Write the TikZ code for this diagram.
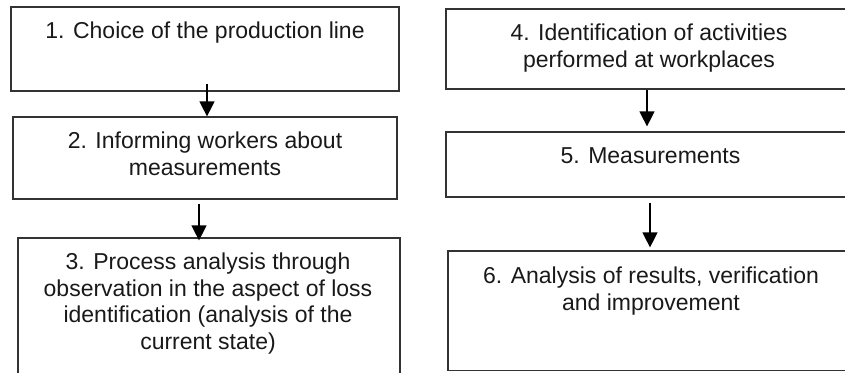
\documentclass[tikz,border=0pt]{standalone}
\usepackage{fontspec}
\setmainfont{Liberation Sans}
\usetikzlibrary{arrows.meta}
\begin{document}
\begin{tikzpicture}[x=1pt,y=-1pt,
  box/.style={draw=black!80,line width=1.2pt,rectangle,inner sep=0pt},
  txt/.style={anchor=north,inner sep=0pt,align=center,text=black!90,
    font=\fontsize{23pt}{26.5pt}\selectfont},
  arr/.style={draw=black,line width=1.2pt,-{Triangle[width=15pt,length=15pt]}}]
\useasboundingbox (0,0) rectangle (845,372);
\clip (0,0) rectangle (845,372);
% left column
\node[box,minimum width=388pt,minimum height=84pt] (b1) at (205,49) {};
\node[box,minimum width=384pt,minimum height=82pt] (b2) at (205,158) {};
\node[box,minimum width=382pt,minimum height=162pt] (b3) at (209,319) {};
% right column
\node[box,minimum width=408pt,minimum height=80pt] (b4) at (650,49) {};
\node[box,minimum width=408pt,minimum height=65pt] (b5) at (650,164.5) {};
\node[box,minimum width=406pt,minimum height=119.5pt] (b6) at (651,310.75) {};
% texts
\node[txt] (t1) at (205,22) {1. Choice of the production line};
\node[txt] (t2) at (205,132) {2. Informing workers about\\measurements};
\node[txt] (t3) at (208,253) {3. Process analysis through\\observation in the aspect of loss\\identification (analysis of the\\current state)};
\node[txt] (t4) at (649,24) {4. Identification of activities\\performed at workplaces};
\node[txt] (t5) at (650.5,147) {5. Measurements};
\node[txt] (t6) at (651,267) {6. Analysis of results, verification\\and improvement};
% connectors
\draw[arr] ([xshift=2pt,yshift=8pt]b1.south) -- ([xshift=2pt]b2.north);
\draw[arr] ([xshift=-6pt,yshift=-4pt]b2.south) -- ([xshift=-10pt,yshift=-3pt]b3.north);
\draw[arr] ([xshift=-3pt]b4.south) -- ([xshift=-3pt,yshift=5pt]b5.north);
\draw[arr] ([yshift=-5pt]b5.south) -- ([xshift=-1pt,yshift=3pt]b6.north);
\end{tikzpicture}
\end{document}
